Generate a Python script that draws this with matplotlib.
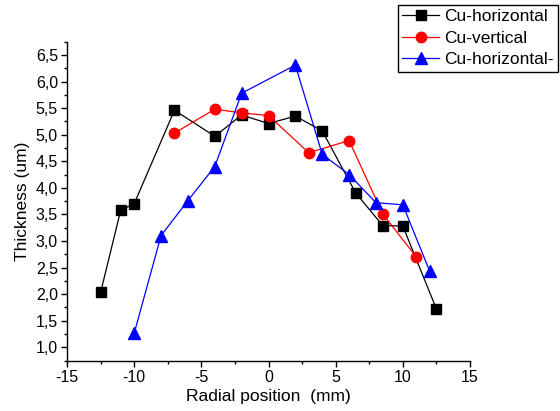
import matplotlib
matplotlib.use("Agg")
import matplotlib.pyplot as plt
from matplotlib.ticker import MultipleLocator, FuncFormatter

plt.rcParams['font.family'] = ['Liberation Sans', 'DejaVu Sans']
plt.rcParams['axes.unicode_minus'] = False

# Data
x_h = [-12.5, -11, -10, -7, -4, -2, 0, 2, 4, 6.5, 8.5, 10, 12.5]
y_h = [2.03, 3.58, 3.70, 5.46, 4.97, 5.37, 5.21, 5.35, 5.07, 3.90, 3.29, 3.28, 1.72]

x_v = [-7, -4, -2, 0, 3, 6, 8.5, 11]
y_v = [5.03, 5.48, 5.41, 5.36, 4.66, 4.89, 3.51, 2.70]

x_h2 = [-10, -8, -6, -4, -2, 2, 4, 6, 8, 10, 12]
y_h2 = [1.26, 3.10, 3.76, 4.40, 5.78, 6.31, 4.63, 4.25, 3.72, 3.68, 2.43]

labels = ["Cu-horizontal", "Cu-vertical", "Cu-horizontal-"]
x_label = "Radial position  (mm)"
y_label = "Thickness (um)"

fig = plt.figure(figsize=(5.6, 4.11), dpi=100)
ax = fig.add_axes([67/560, 1 - 360.5/411, 403/560, 318.8/411])

l1, = ax.plot(x_h, y_h, color='black', lw=0.9, marker='s', ms=6.5,
              mfc='black', mec='black', label=labels[0])
l2, = ax.plot(x_v, y_v, color='red', lw=0.9, marker='o', ms=7.5,
              mfc='red', mec='red', label=labels[1])
l3, = ax.plot(x_h2, y_h2, color='blue', lw=0.9, marker='^', ms=8.5,
              mfc='blue', mec='blue', label=labels[2])

ax.set_xlim(-15, 15)
ax.set_ylim(0.75, 6.75)
ax.xaxis.set_major_locator(MultipleLocator(5))
ax.xaxis.set_minor_locator(MultipleLocator(2.5))
ax.yaxis.set_major_locator(MultipleLocator(0.5))
ax.yaxis.set_minor_locator(MultipleLocator(0.25))
ax.yaxis.set_major_formatter(FuncFormatter(lambda v, p: ("%.1f" % v).replace('.', ',')))
ax.xaxis.set_major_formatter(FuncFormatter(lambda v, p: "%d" % round(v)))

ax.set_yticks([v / 2 for v in range(2, 14)])

for s in ['top', 'right']:
    ax.spines[s].set_visible(False)
for s in ['left', 'bottom']:
    ax.spines[s].set_linewidth(1.0)

ax.tick_params(which='major', direction='out', length=4.5, width=1.0,
               labelsize=11.5, pad=2)
ax.tick_params(which='minor', direction='out', length=2.5, width=1.0)

ax.set_xlabel(x_label, fontsize=12.5, labelpad=3)
ax.set_ylabel(y_label, fontsize=12.5, labelpad=4)

leg = fig.legend(handles=[l1, l2, l3], loc='upper left',
                 bbox_to_anchor=(398/560, 1 - 5/411), borderaxespad=0,
                 fontsize=12.5, frameon=True, fancybox=False,
                 edgecolor='black', handlelength=2.1, handletextpad=0.3,
                 labelspacing=0.36, borderpad=0.25, framealpha=1)
leg.get_frame().set_linewidth(1.0)

fig.savefig("out.png", dpi=100)
